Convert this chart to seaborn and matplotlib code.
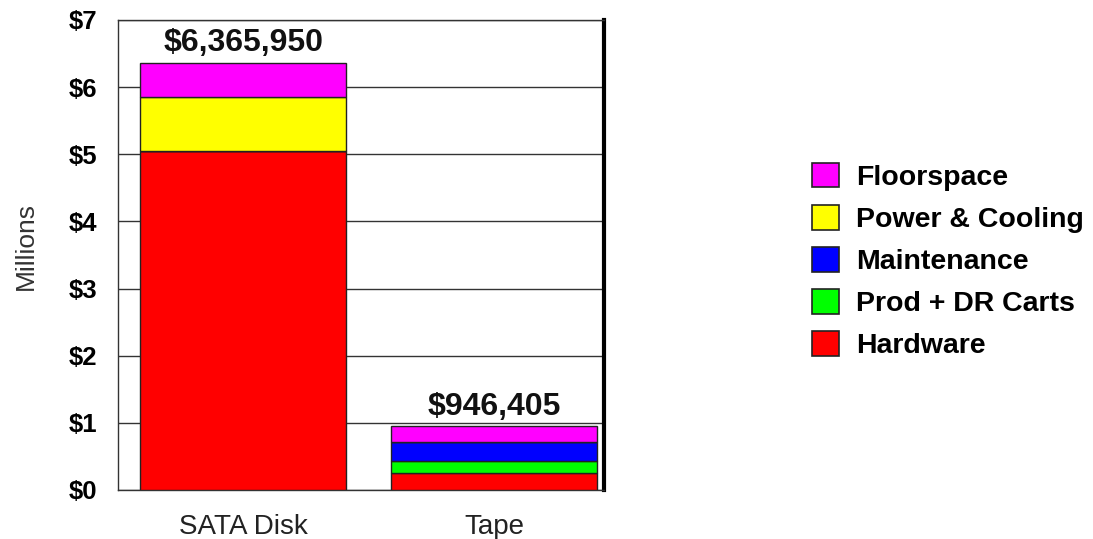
import matplotlib
matplotlib.use("Agg")
import matplotlib.pyplot as plt
from matplotlib.patches import Patch
import numpy as np
import pandas as pd
import seaborn as sns

# Cost breakdown (millions of dollars)
platforms = ["SATA Disk", "Tape"]
hardware = [5.05, 0.25]
prod_dr_carts = [0.0, 0.18]
maintenance = [0.0, 0.286]
power_cooling = [0.805, 0.0]
floorspace = [0.51095, 0.230405]

y_ticks = [0, 1, 2, 3, 4, 5, 6, 7]
y_tick_labels = ["$0", "$1", "$2", "$3", "$4", "$5", "$6", "$7"]

# stacking order, bottom to top
components = [
    ("Hardware", hardware, "#ff0000"),
    ("Prod + DR Carts", prod_dr_carts, "#00ff00"),
    ("Maintenance", maintenance, "#0000ff"),
    ("Power & Cooling", power_cooling, "#ffff00"),
    ("Floorspace", floorspace, "#ff00ff"),
]

sns.set_theme(style="white")
plt.rcParams["font.family"] = ["Liberation Sans", "DejaVu Sans"]
plt.rcParams.update({"text.color": "black", "axes.labelcolor": "#333333",
                     "xtick.color": "#222222", "ytick.color": "black"})

fig = plt.figure(figsize=(10.93, 5.39), dpi=100)
ax = fig.add_axes([0.108, 0.091, 0.445, 0.872])

bottom = np.zeros(len(platforms))
for name, vals, color in components:
    df = pd.DataFrame({"platform": platforms, "value": vals})
    sns.barplot(data=df, x="platform", y="value", color=color, width=0.82,
                bottom=bottom.copy(), edgecolor="#222222", linewidth=1.0,
                saturation=1, ax=ax, zorder=3)
    bottom = bottom + np.array(vals)

# totals above each bar
for i, total in enumerate(bottom):
    ax.annotate(f"${total * 1e6:,.0f}", xy=(i, total), xytext=(0, 3),
                textcoords="offset points", ha="center", va="bottom",
                fontsize=23, fontweight="bold", color="#111111")

ax.set_ylim(0, 7)
ax.set_xlim(-0.498, 1.438)
ax.set_yticks(y_ticks)
ax.set_yticklabels(y_tick_labels, fontsize=18.5, fontweight="bold")
ax.tick_params(axis="y", length=0, pad=15)
ax.tick_params(axis="x", length=0, pad=17, labelsize=20)
ax.set_xlabel("")
ax.set_ylabel("Millions", fontsize=19)
ax.yaxis.set_label_coords(-0.165, 0.52)

for y in y_ticks:
    ax.axhline(y, color="#333333", linewidth=1.0, zorder=1)

for side in ["left", "top", "bottom"]:
    ax.spines[side].set_color("#333333")
    ax.spines[side].set_linewidth(1.0)
ax.spines["right"].set_color("black")
ax.spines["right"].set_linewidth(3)

handles = [Patch(facecolor=c, edgecolor="#222222", linewidth=1.2, label=n)
           for n, _, c in components[::-1]]
leg = fig.legend(handles=handles, loc="center left",
                 bbox_to_anchor=(812 / 1093, 1 - 261 / 539),
                 frameon=False, borderpad=0, borderaxespad=0,
                 handlelength=0.95, handleheight=0.95, handletextpad=0.6,
                 labelspacing=0.49,
                 prop={"family": "Liberation Sans", "weight": "bold", "size": 20.5})

fig.savefig("out.png", dpi=100, facecolor="white")
